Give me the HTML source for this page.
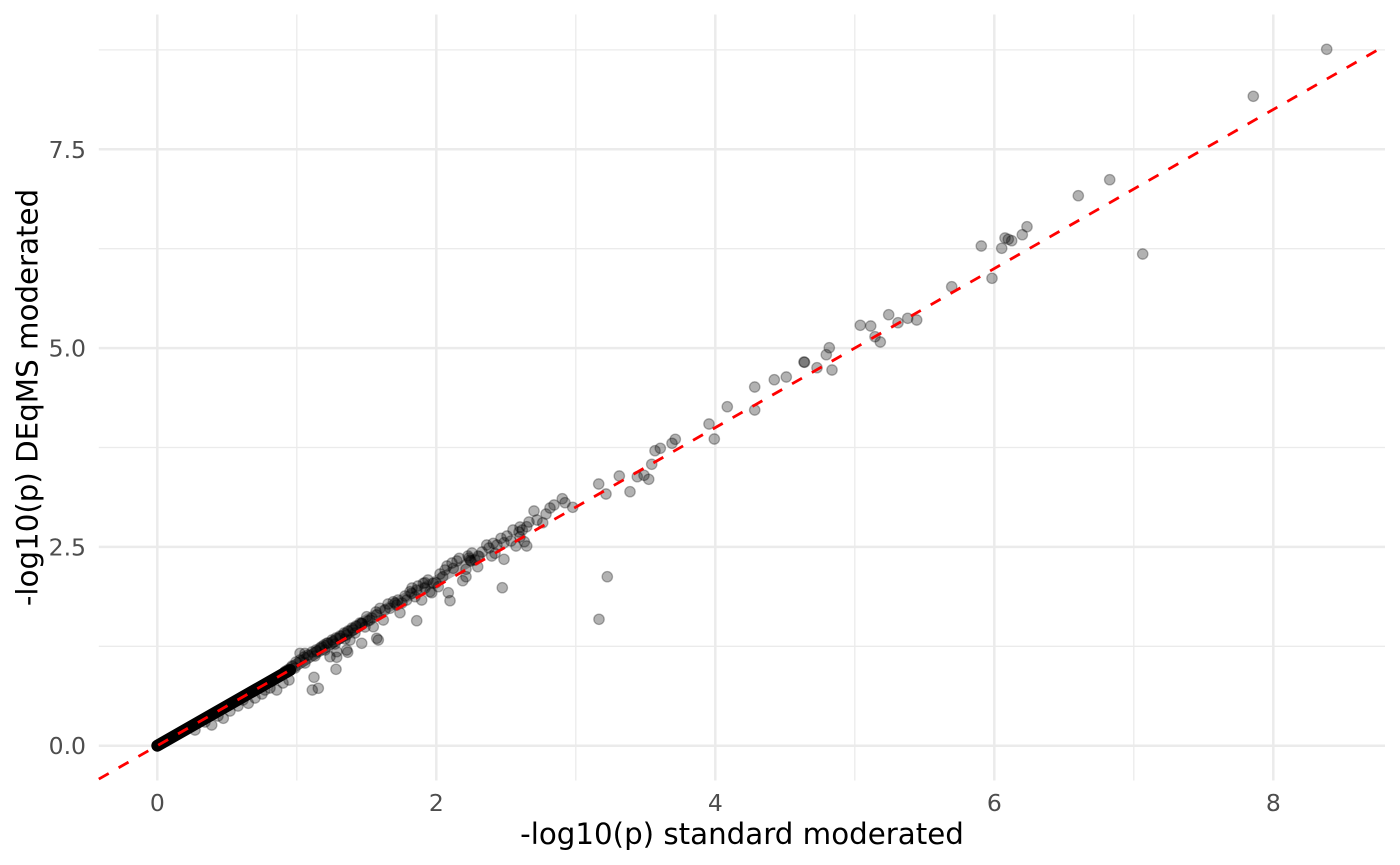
<!DOCTYPE html>
<html>
<head>
<meta charset="utf-8">
<style>
html,body{margin:0;padding:0;background:#fff;}
svg{display:block;}
.tick{font-family:"DejaVu Sans","Liberation Sans",sans-serif;font-size:23.5px;fill:#4D4D4D;}
.title{font-family:"DejaVu Sans","Liberation Sans",sans-serif;font-size:29.3px;fill:#000;}
</style>
</head>
<body>
<svg width="1400" height="865" viewBox="0 0 1400 865" xmlns="http://www.w3.org/2000/svg">
<rect width="1400" height="865" fill="#fff"/>
<g stroke="#EBEBEB" stroke-width="1.3">
<line x1="296.8" y1="14.5" x2="296.8" y2="780.5"/>
<line x1="575.8" y1="14.5" x2="575.8" y2="780.5"/>
<line x1="854.8" y1="14.5" x2="854.8" y2="780.5"/>
<line x1="1133.8" y1="14.5" x2="1133.8" y2="780.5"/>
<line x1="98.8" y1="646.3" x2="1385" y2="646.3"/>
<line x1="98.8" y1="447.5" x2="1385" y2="447.5"/>
<line x1="98.8" y1="248.7" x2="1385" y2="248.7"/>
<line x1="98.8" y1="49.9" x2="1385" y2="49.9"/>
</g>
<g stroke="#EBEBEB" stroke-width="2.5">
<line x1="157.3" y1="14.5" x2="157.3" y2="780.5"/>
<line x1="436.3" y1="14.5" x2="436.3" y2="780.5"/>
<line x1="715.3" y1="14.5" x2="715.3" y2="780.5"/>
<line x1="994.3" y1="14.5" x2="994.3" y2="780.5"/>
<line x1="1273.3" y1="14.5" x2="1273.3" y2="780.5"/>
<line x1="98.8" y1="745.7" x2="1385" y2="745.7"/>
<line x1="98.8" y1="546.9" x2="1385" y2="546.9"/>
<line x1="98.8" y1="348.1" x2="1385" y2="348.1"/>
<line x1="98.8" y1="149.3" x2="1385" y2="149.3"/>
</g>
<line x1="157.3" y1="745.7" x2="290" y2="670" stroke="#000" stroke-width="12" stroke-linecap="round"/>
<line x1="285" y1="672" x2="362" y2="624" stroke="#000" stroke-opacity="0.55" stroke-width="12" stroke-linecap="round"/>
<line x1="362" y1="622" x2="480" y2="556" stroke="#000" stroke-opacity="0.3" stroke-width="10" stroke-linecap="round"/>
<g fill="#000" fill-opacity="0.3" stroke="#000" stroke-opacity="0.3" stroke-width="1.3">
<circle cx="1326.7" cy="49.3" r="5.2"/>
<circle cx="1253.3" cy="96.3" r="5.2"/>
<circle cx="1109.7" cy="179.7" r="5.2"/>
<circle cx="1078.3" cy="195.7" r="5.2"/>
<circle cx="1142.7" cy="254" r="5.2"/>
<circle cx="1027" cy="226.7" r="5.2"/>
<circle cx="1022.3" cy="234.7" r="5.2"/>
<circle cx="1005" cy="238" r="5.2"/>
<circle cx="1008.3" cy="239.3" r="5.2"/>
<circle cx="1011.7" cy="240.7" r="5.2"/>
<circle cx="981.3" cy="246" r="5.2"/>
<circle cx="1001.7" cy="248.3" r="5.2"/>
<circle cx="992" cy="278.3" r="5.2"/>
<circle cx="951.7" cy="286.7" r="5.2"/>
<circle cx="888.7" cy="314.7" r="5.2"/>
<circle cx="898" cy="322.7" r="5.2"/>
<circle cx="907.7" cy="318.3" r="5.2"/>
<circle cx="916.7" cy="320" r="5.2"/>
<circle cx="860.3" cy="325.3" r="5.2"/>
<circle cx="870.7" cy="326" r="5.2"/>
<circle cx="875" cy="336.7" r="5.2"/>
<circle cx="880.3" cy="342" r="5.2"/>
<circle cx="829.3" cy="347.7" r="5.2"/>
<circle cx="826.3" cy="354.7" r="5.2"/>
<circle cx="804" cy="362" r="5.2"/>
<circle cx="804.5" cy="362.3" r="5.2"/>
<circle cx="817" cy="367.7" r="5.2"/>
<circle cx="832" cy="370" r="5.2"/>
<circle cx="786.3" cy="377" r="5.2"/>
<circle cx="774.3" cy="379.7" r="5.2"/>
<circle cx="754.7" cy="387" r="5.2"/>
<circle cx="754.7" cy="410" r="5.2"/>
<circle cx="727.3" cy="406.7" r="5.2"/>
<circle cx="709" cy="424" r="5.2"/>
<circle cx="714.3" cy="439" r="5.2"/>
<circle cx="675.3" cy="439.3" r="5.2"/>
<circle cx="672" cy="443.3" r="5.2"/>
<circle cx="660.3" cy="448.3" r="5.2"/>
<circle cx="655" cy="450.7" r="5.2"/>
<circle cx="651.7" cy="464.3" r="5.2"/>
<circle cx="619.3" cy="476" r="5.2"/>
<circle cx="598.7" cy="484" r="5.2"/>
<circle cx="606" cy="494" r="5.2"/>
<circle cx="630" cy="491.7" r="5.2"/>
<circle cx="637.3" cy="476.7" r="5.2"/>
<circle cx="644" cy="475.3" r="5.2"/>
<circle cx="648.7" cy="479.3" r="5.2"/>
<circle cx="562.3" cy="498.7" r="5.2"/>
<circle cx="554" cy="505" r="5.2"/>
<circle cx="565" cy="502.7" r="5.2"/>
<circle cx="572.7" cy="507.3" r="5.2"/>
<circle cx="607.3" cy="576.7" r="5.2"/>
<circle cx="599" cy="619.3" r="5.2"/>
<circle cx="502.3" cy="587.7" r="5.2"/>
<circle cx="534" cy="511" r="5.2"/>
<circle cx="542.7" cy="522.7" r="5.2"/>
<circle cx="522.3" cy="530" r="5.2"/>
<circle cx="519" cy="532" r="5.2"/>
<circle cx="526.7" cy="526.7" r="5.2"/>
<circle cx="516" cy="546" r="5.2"/>
<circle cx="526.7" cy="546" r="5.2"/>
<circle cx="524.3" cy="541.7" r="5.2"/>
<circle cx="520" cy="537" r="5.2"/>
<circle cx="501" cy="538.3" r="5.2"/>
<circle cx="493.3" cy="543.3" r="5.2"/>
<circle cx="504" cy="542.7" r="5.2"/>
<circle cx="504" cy="559.3" r="5.2"/>
<circle cx="491.7" cy="556" r="5.2"/>
<circle cx="495" cy="553.3" r="5.2"/>
<circle cx="470" cy="560" r="5.2"/>
<circle cx="471" cy="561" r="5.2"/>
<circle cx="469" cy="558" r="5.2"/>
<circle cx="478.3" cy="556" r="5.2"/>
<circle cx="477.7" cy="566.7" r="5.2"/>
<circle cx="459.3" cy="558.3" r="5.2"/>
<circle cx="453.3" cy="568.3" r="5.2"/>
<circle cx="466" cy="569.3" r="5.2"/>
<circle cx="462.7" cy="580.7" r="5.2"/>
<circle cx="466" cy="576.7" r="5.2"/>
<circle cx="486.7" cy="545" r="5.2"/>
<circle cx="445" cy="570" r="5.2"/>
<circle cx="442.7" cy="576.7" r="5.2"/>
<circle cx="436" cy="582.7" r="5.2"/>
<circle cx="448.3" cy="592.7" r="5.2"/>
<circle cx="450" cy="600.7" r="5.2"/>
<circle cx="425" cy="582.7" r="5.2"/>
<circle cx="431.7" cy="592.7" r="5.2"/>
<circle cx="416.7" cy="590" r="5.2"/>
<circle cx="411.7" cy="593.3" r="5.2"/>
<circle cx="421.7" cy="600" r="5.2"/>
<circle cx="416.7" cy="620.7" r="5.2"/>
<circle cx="433.3" cy="583.3" r="5.2"/>
<circle cx="438.3" cy="586.7" r="5.2"/>
<circle cx="423.3" cy="583.3" r="5.2"/>
<circle cx="430" cy="591.7" r="5.2"/>
<circle cx="393.3" cy="601.7" r="5.2"/>
<circle cx="395" cy="603" r="5.2"/>
<circle cx="400" cy="612.7" r="5.2"/>
<circle cx="396.7" cy="605" r="5.2"/>
<circle cx="390" cy="608.3" r="5.2"/>
<circle cx="406.7" cy="600" r="5.2"/>
<circle cx="410" cy="591.7" r="5.2"/>
<circle cx="415" cy="596.7" r="5.2"/>
<circle cx="380" cy="608.3" r="5.2"/>
<circle cx="383.3" cy="620" r="5.2"/>
<circle cx="376.7" cy="615" r="5.2"/>
<circle cx="370" cy="620" r="5.2"/>
<circle cx="366.7" cy="616.7" r="5.2"/>
<circle cx="361.7" cy="623.3" r="5.2"/>
<circle cx="373.3" cy="626.7" r="5.2"/>
<circle cx="376.7" cy="638.3" r="5.2"/>
<circle cx="361.7" cy="643.3" r="5.2"/>
<circle cx="353.3" cy="630" r="5.2"/>
<circle cx="346.7" cy="635" r="5.2"/>
<circle cx="350" cy="640" r="5.2"/>
<circle cx="340" cy="638.3" r="5.2"/>
<circle cx="333.3" cy="641.7" r="5.2"/>
<circle cx="326.7" cy="643.3" r="5.2"/>
<circle cx="336.7" cy="651.7" r="5.2"/>
<circle cx="346.7" cy="650" r="5.2"/>
<circle cx="321.7" cy="646.7" r="5.2"/>
<circle cx="316.7" cy="651.7" r="5.2"/>
<circle cx="305" cy="653.3" r="5.2"/>
<circle cx="300" cy="653.3" r="5.2"/>
<circle cx="330" cy="656.7" r="5.2"/>
<circle cx="314" cy="677.3" r="5.2"/>
<circle cx="312.3" cy="690" r="5.2"/>
<circle cx="318.3" cy="688.3" r="5.2"/>
<circle cx="336" cy="669.3" r="5.2"/>
<circle cx="336.7" cy="657.3" r="5.2"/>
<circle cx="347.7" cy="652.3" r="5.2"/>
<circle cx="378.3" cy="640" r="5.2"/>
<circle cx="289" cy="680" r="5.2"/>
<circle cx="276.7" cy="690" r="5.2"/>
<circle cx="248.3" cy="703.3" r="5.2"/>
<circle cx="223.3" cy="718.3" r="5.2"/>
<circle cx="211.7" cy="725" r="5.2"/>
<circle cx="195" cy="730" r="5.2"/>
<circle cx="292" cy="666" r="5.2"/>
<circle cx="296" cy="662" r="5.2"/>
<circle cx="300" cy="660" r="5.2"/>
<circle cx="304" cy="657" r="5.2"/>
<circle cx="308" cy="655" r="5.2"/>
<circle cx="312" cy="652" r="5.2"/>
<circle cx="316" cy="650" r="5.2"/>
<circle cx="320" cy="648" r="5.2"/>
<circle cx="324" cy="645" r="5.2"/>
<circle cx="328" cy="643" r="5.2"/>
<circle cx="332" cy="640" r="5.2"/>
<circle cx="336" cy="638" r="5.2"/>
<circle cx="340" cy="636" r="5.2"/>
<circle cx="344" cy="633" r="5.2"/>
<circle cx="348" cy="631" r="5.2"/>
<circle cx="352" cy="628" r="5.2"/>
<circle cx="356" cy="626" r="5.2"/>
<circle cx="360" cy="623" r="5.2"/>
<circle cx="295" cy="668" r="5.2"/>
<circle cx="305" cy="663" r="5.2"/>
<circle cx="315" cy="656" r="5.2"/>
<circle cx="325" cy="650" r="5.2"/>
<circle cx="335" cy="644" r="5.2"/>
<circle cx="345" cy="639" r="5.2"/>
<circle cx="355" cy="633" r="5.2"/>
<circle cx="365" cy="627" r="5.2"/>
<circle cx="368" cy="621" r="5.2"/>
<circle cx="372" cy="618" r="5.2"/>
<circle cx="376" cy="612" r="5.2"/>
<circle cx="385" cy="610" r="5.2"/>
<circle cx="388" cy="604" r="5.2"/>
<circle cx="398" cy="600" r="5.2"/>
<circle cx="402" cy="603" r="5.2"/>
<circle cx="405" cy="596" r="5.2"/>
<circle cx="412" cy="588" r="5.2"/>
<circle cx="418" cy="586" r="5.2"/>
<circle cx="425" cy="588" r="5.2"/>
<circle cx="428" cy="580" r="5.2"/>
<circle cx="440" cy="574" r="5.2"/>
<circle cx="447" cy="566" r="5.2"/>
<circle cx="452" cy="563" r="5.2"/>
<circle cx="457" cy="561" r="5.2"/>
<circle cx="468" cy="556" r="5.2"/>
<circle cx="472" cy="553" r="5.2"/>
<circle cx="475" cy="560" r="5.2"/>
<circle cx="482" cy="552" r="5.2"/>
<circle cx="489" cy="548" r="5.2"/>
<circle cx="497" cy="545" r="5.2"/>
<circle cx="507" cy="536" r="5.2"/>
<circle cx="511" cy="541" r="5.2"/>
<circle cx="513" cy="530" r="5.2"/>
<circle cx="520" cy="527" r="5.2"/>
<circle cx="529" cy="522" r="5.2"/>
<circle cx="537" cy="520" r="5.2"/>
<circle cx="546" cy="514" r="5.2"/>
<circle cx="550" cy="508" r="5.2"/>
<circle cx="205" cy="722" r="5.2"/>
<circle cx="218" cy="716" r="5.2"/>
<circle cx="230" cy="711" r="5.2"/>
<circle cx="238" cy="706" r="5.2"/>
<circle cx="243" cy="700" r="5.2"/>
<circle cx="255" cy="698" r="5.2"/>
<circle cx="262" cy="694" r="5.2"/>
<circle cx="265" cy="690" r="5.2"/>
<circle cx="270" cy="688" r="5.2"/>
<circle cx="283" cy="683" r="5.2"/>
</g>
<line x1="98.8" y1="779.05" x2="1385" y2="45.8" stroke="#FF0000" stroke-width="2.8" stroke-dasharray="11.4 11.4"/>
<g class="tick" text-anchor="middle">
<text x="157.3" y="811">0</text>
<text x="436.3" y="811">2</text>
<text x="715.3" y="811">4</text>
<text x="994.3" y="811">6</text>
<text x="1273.3" y="811">8</text>
</g>
<g class="tick" text-anchor="end">
<text x="86" y="754.2">0.0</text>
<text x="86" y="555.4">2.5</text>
<text x="86" y="356.6">5.0</text>
<text x="86" y="157.8">7.5</text>
</g>
<text class="title" x="742" y="844" text-anchor="middle">-log10(p) standard moderated</text>
<text class="title" transform="translate(37.3,397.5) rotate(-90)" text-anchor="middle">-log10(p) DEqMS moderated</text>
</svg>
</body>
</html>
